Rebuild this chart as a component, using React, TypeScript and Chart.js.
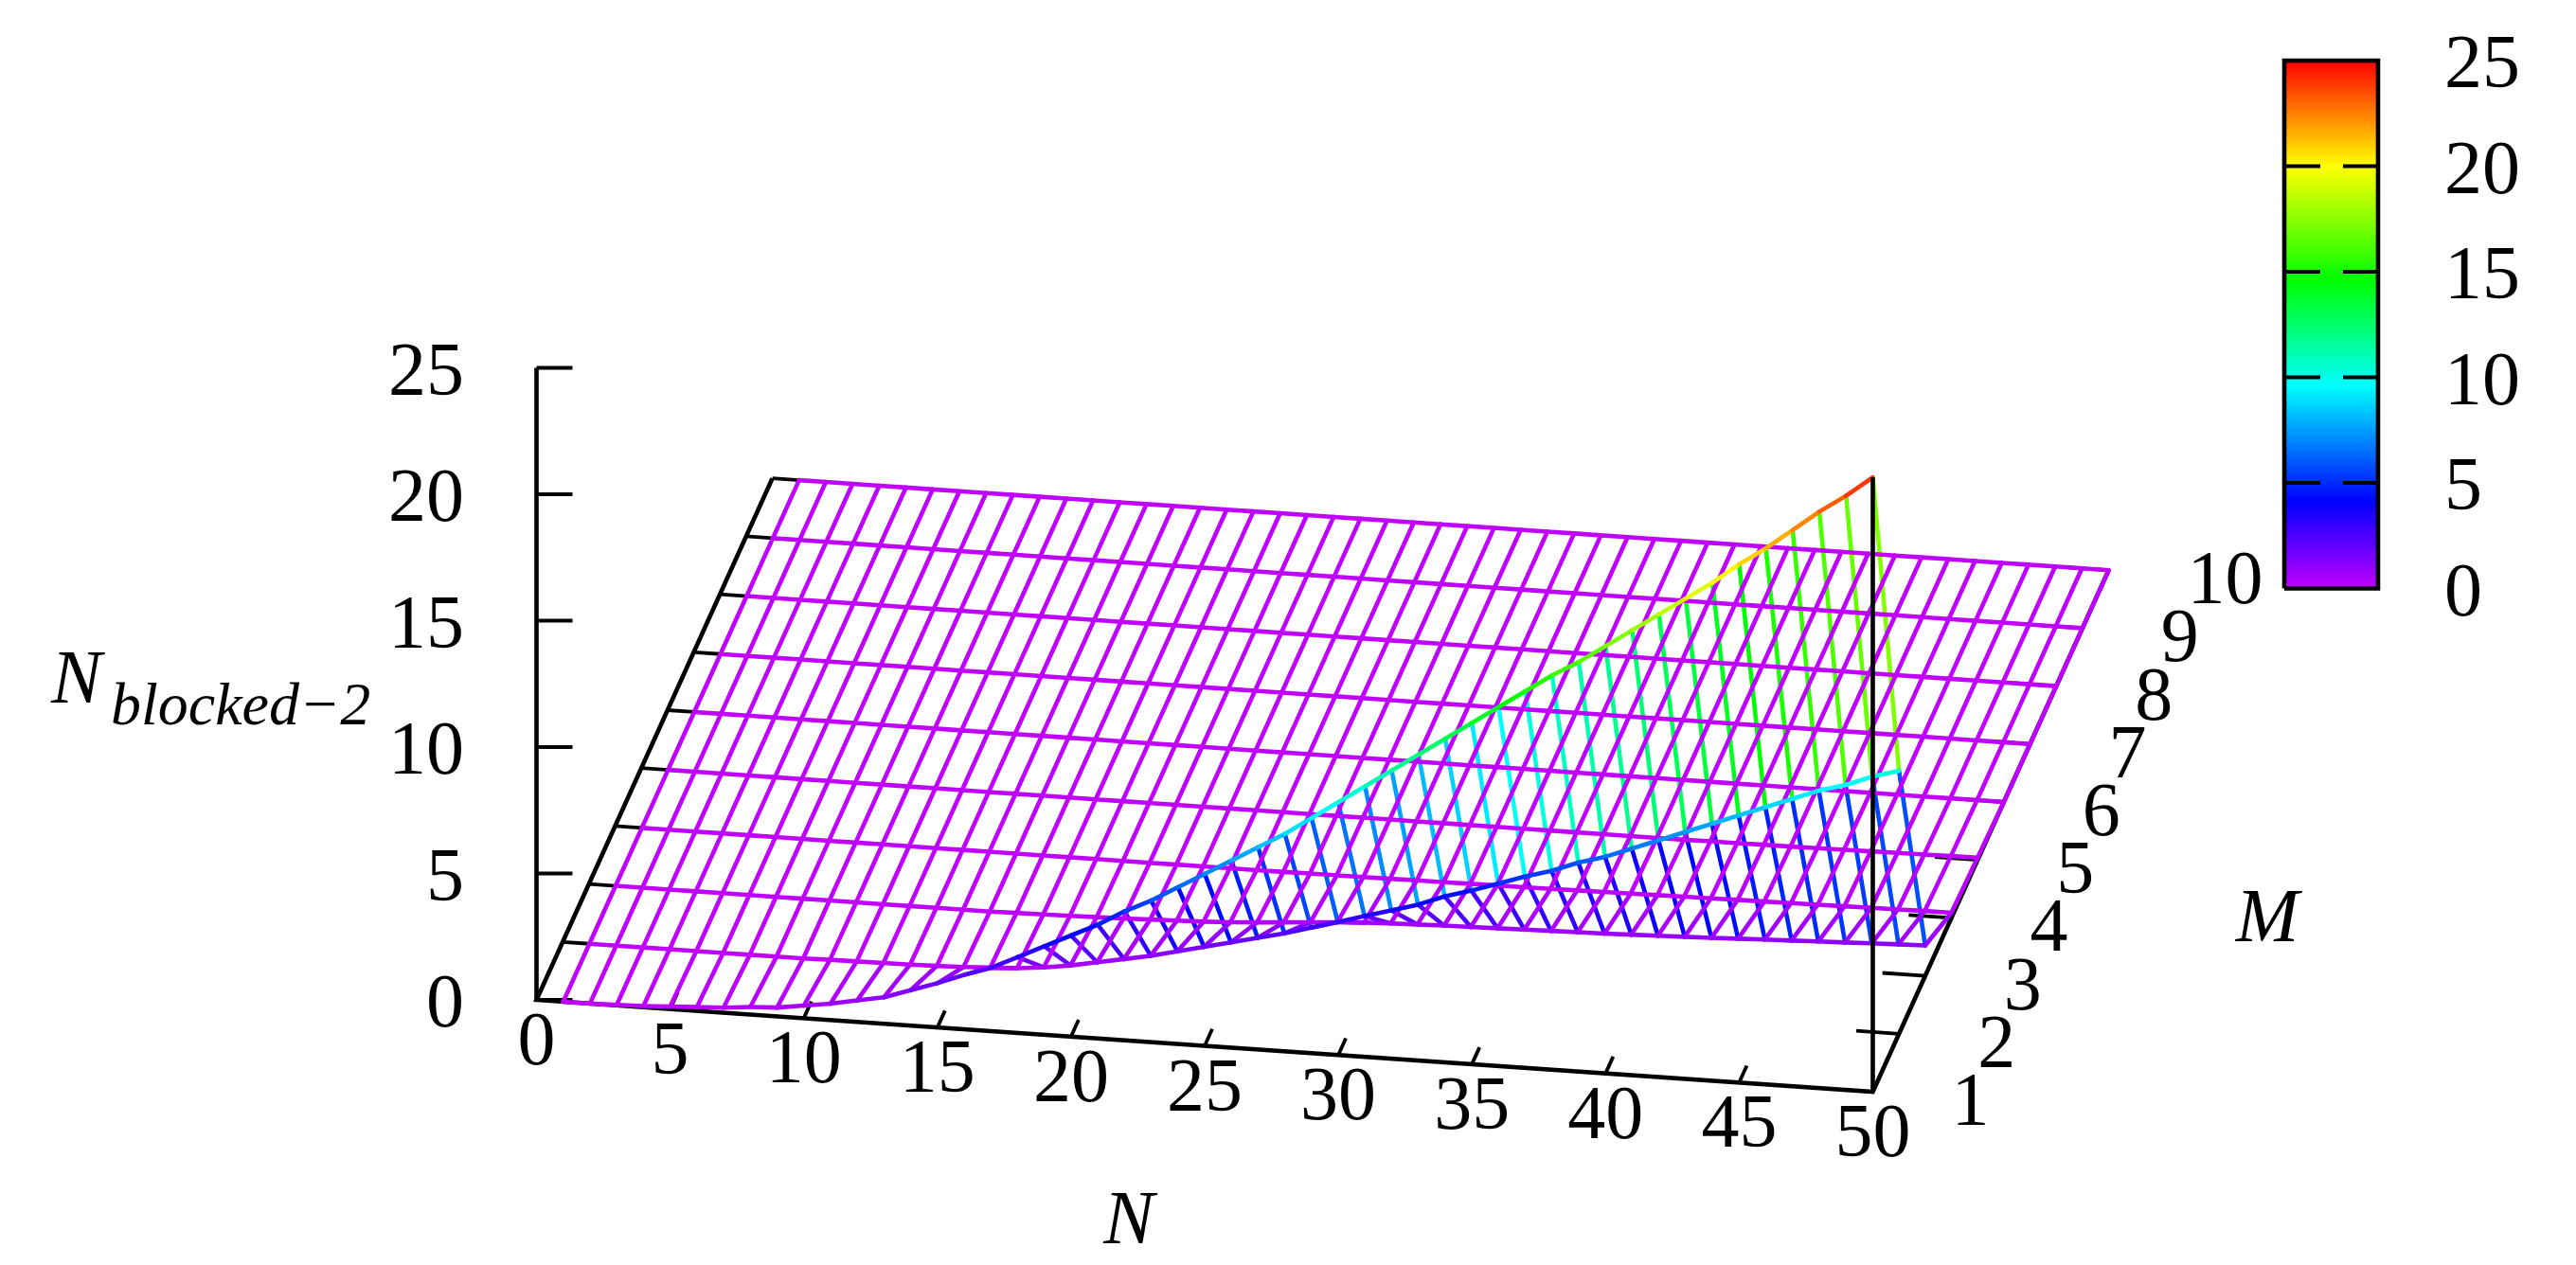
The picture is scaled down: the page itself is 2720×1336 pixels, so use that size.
import React, { useEffect, useRef } from "react";
import { Chart, registerables } from "chart.js";

Chart.register(...registerables);

// ---------- data ----------
const nValues = [1,2,3,4,5,6,7,8,9,10,11,12,13,14,15,16,17,18,19,20,21,22,23,24,25,26,27,28,29,30,31,32,33,34,35,36,37,38,39,40,41,42,43,44,45,46,47,48,49,50];
const mValues = [1,2,3,4,5,6,7,8,9,10];

const rowM1 = [0,0,0.02,0.05,0.1,0.15,0.2,0.3,0.35,0.5,0.65,0.85,1.05,1.4,1.75,2.15,2.5,3,3.5,4,4.5,5.1,5.6,6.2,6.8,7.4,8,8.6,9.3,10,10.7,11.4,12.1,12.8,13.5,14.2,14.9,15.6,16.2,16.9,17.6,18.3,19,19.7,20.5,21.2,22,22.8,23.5,24.3];
const rowM2 = [0,0,0,0,0,0,0,0,0,0.02,0.03,0.04,0.05,0.07,0.1,0.15,0.2,0.3,0.45,0.65,0.85,1.05,1.3,1.55,1.8,2.05,2.3,2.6,2.9,3.2,3.5,3.8,4.2,4.5,4.85,5.2,5.5,5.9,6.2,6.6,7,7.4,7.8,8.2,8.6,9,9.4,9.7,10.1,10.4];
const rowM3 = [0,0,0,0,0,0,0,0,0,0,0,0,0,0,0,0.02,0.03,0.05,0.07,0.09,0.12,0.15,0.18,0.23,0.3,0.37,0.45,0.52,0.58,0.62,0.65,0.68,0.7,0.72,0.74,0.76,0.78,0.8,0.83,0.86,0.89,0.92,0.96,1,1.03,1.07,1.1,1.14,1.17,1.2];
const rowM4 = [0,0,0,0,0,0,0,0,0,0,0,0,0,0,0,0,0,0,0,0,0,0,0,0,0,0.01,0.01,0.02,0.02,0.03,0.03,0.04,0.05,0.05,0.06,0.07,0.08,0.09,0.1,0.11,0.12,0.13,0.14,0.15,0.16,0.17,0.18,0.19,0.2,0.2];
const rowM5 = [0,0,0,0,0,0,0,0,0,0,0,0,0,0,0,0,0,0,0,0,0,0,0,0,0,0,0,0,0,0,0,0,0,0,0,0,0,0,0,0.01,0.01,0.02,0.02,0.03,0.04,0.05,0.06,0.07,0.08,0.09];
const rowFlat = [0,0,0,0,0,0,0,0,0,0,0,0,0,0,0,0,0,0,0,0,0,0,0,0,0,0,0,0,0,0,0,0,0,0,0,0,0,0,0,0,0,0,0,0,0,0,0,0,0,0];
const surfaceRows = [rowM1, rowM2, rowM3, rowM4, rowM5, rowFlat, rowFlat, rowFlat, rowFlat, rowFlat];

const zTicks = [0, 5, 10, 15, 20, 25];
const nTicks = [0, 5, 10, 15, 20, 25, 30, 35, 40, 45, 50];
const mTicks = [1, 2, 3, 4, 5, 6, 7, 8, 9, 10];
const cbTicks = [0, 5, 10, 15, 20, 25];

const paletteStops: [number, number[]][] = [
  [0, [192, 0, 255]],
  [4.1, [0, 0, 255]],
  [9.6, [0, 255, 255]],
  [14.6, [0, 255, 0]],
  [20, [255, 255, 0]],
  [25, [255, 0, 0]],
];

// ---------- view (page pixels) ----------
const W = 2720;
const H = 1336;
const FONT = '"Liberation Serif", "Times New Roman", serif';
const PURPLE_W = 4.6;
const AXIS_W = 4.6;
const TICK_W = 3.8;

function project(n: number, m: number, z: number) {
  return {
    x: 566.5 + n * 28.22 + (m - 1) * 27.67,
    y: 1056 + n * 1.94 + (m - 1) * -61.2 - z * 26.7,
  };
}
const cbY = (z: number) => 621.5 - z * 22.3;
const CB_LEFT = 2412;
const CB_RIGHT = 2511;

function paletteColor(z: number) {
  const v = Math.max(0, Math.min(25, z));
  for (let i = 1; i < paletteStops.length; i++) {
    const [z1, c1] = paletteStops[i];
    if (v <= z1) {
      const [z0, c0] = paletteStops[i - 1];
      const t = (v - z0) / (z1 - z0);
      const c = c0.map((a, k) => Math.round(a + (c1[k] - a) * t));
      return `rgb(${c[0]},${c[1]},${c[2]})`;
    }
  }
  return "rgb(255,0,0)";
}

function surfaceLine(zs: number[], pts: { x: number; y: number }[], order: number) {
  return {
    data: pts,
    showLine: true,
    pointRadius: 0,
    borderWidth: PURPLE_W,
    borderColor: paletteColor(0),
    borderCapStyle: "round" as const,
    tension: 0,
    order,
    segment: {
      borderColor: (c: any) => paletteColor((zs[c.p0DataIndex] + zs[c.p1DataIndex]) / 2),
    },
  };
}

function blackLine(pts: { x: number; y: number }[], width: number, order: number) {
  return {
    data: pts,
    showLine: true,
    pointRadius: 0,
    borderWidth: width,
    borderColor: "#000",
    borderCapStyle: "butt" as const,
    tension: 0,
    order,
  };
}

function buildDatasets() {
  const ds: any[] = [];
  // Surface rows: M = const, front row on top
  surfaceRows.forEach((row, i) => {
    ds.push(surfaceLine(row, nValues.map((n, k) => project(n, mValues[i], row[k])), 2 + (i === 0 ? 0 : 1)));
  });
  // Surface columns: N = const
  nValues.forEach((n, k) => {
    const zs = surfaceRows.map((r) => r[k]);
    ds.push(surfaceLine(zs, mValues.map((m, i) => project(n, m, zs[i])), 4));
  });
  // Base frame (the back edge lies under the M = 10 row)
  const corners = [project(50, 10, 0), project(50, 1, 0), project(0, 1, 0), project(0, 10, 0)];
  ds.push(blackLine(corners, AXIS_W, 6));
  // Vertical axes
  ds.push(blackLine([project(0, 1, 0), project(0, 1, 25)], AXIS_W, 5));
  ds.push(blackLine([project(50, 1, 0), project(50, 1, rowM1[49])], AXIS_W, 0));
  // z ticks
  zTicks.forEach((z) => {
    const p = project(0, 1, z);
    ds.push(blackLine([p, { x: p.x + 38, y: p.y }], TICK_W, 6));
  });
  // N ticks
  nTicks.slice(1, -1).forEach((n) => {
    const p = project(n, 1, 0);
    ds.push(blackLine([p, project(n, 1.29, 0)], TICK_W, 6));
  });
  // M ticks, both sides
  mTicks.slice(1).forEach((m) => {
    ds.push(blackLine([project(0, m, 0), project(1, m, 0)], TICK_W, 6));
    ds.push(blackLine([project(50, m, 0), project(48.4, m, 0)], TICK_W, 6));
  });
  // Colour bar
  const cx = (CB_LEFT + CB_RIGHT) / 2;
  ds.push({
    data: [{ x: cx, y: cbY(0) }, { x: cx, y: cbY(25) }],
    showLine: true,
    pointRadius: 0,
    borderWidth: CB_RIGHT - CB_LEFT,
    borderCapStyle: "butt",
    tension: 0,
    order: 9,
    borderColor: (c: any) => {
      const g = c.chart.ctx.createLinearGradient(0, cbY(0), 0, cbY(25));
      paletteStops.forEach(([z, col]) => g.addColorStop(z / 25, `rgb(${col[0]},${col[1]},${col[2]})`));
      return g;
    },
  });
  ds.push(
    blackLine(
      [
        { x: CB_LEFT, y: cbY(0) },
        { x: CB_RIGHT, y: cbY(0) },
        { x: CB_RIGHT, y: cbY(25) },
        { x: CB_LEFT, y: cbY(25) },
        { x: CB_LEFT, y: cbY(0) },
      ],
      AXIS_W,
      0
    )
  );
  cbTicks.slice(1, -1).forEach((z) => {
    ds.push(blackLine([{ x: CB_LEFT, y: cbY(z) }, { x: CB_LEFT + 38, y: cbY(z) }], TICK_W, 1));
    ds.push(blackLine([{ x: CB_RIGHT, y: cbY(z) }, { x: CB_RIGHT - 37, y: cbY(z) }], TICK_W, 1));
  });
  return ds;
}

const labelsPlugin = {
  id: "labels3d",
  afterDraw(chart: any) {
    const ctx = chart.ctx as CanvasRenderingContext2D;
    const sx = chart.scales.x;
    const sy = chart.scales.y;
    const text = (s: string, x: number, y: number, align: CanvasTextAlign, font: string) => {
      ctx.font = font;
      ctx.textAlign = align;
      ctx.textBaseline = "alphabetic";
      ctx.fillStyle = "#000";
      ctx.fillText(s, sx.getPixelForValue(x), sy.getPixelForValue(y));
    };
    ctx.save();
    const f = `80px ${FONT}`;
    zTicks.forEach((z) => {
      const p = project(0, 1, z);
      text(String(z), 490, p.y + 28, "right", f);
    });
    nTicks.forEach((n) => {
      const p = project(n, 1, 0);
      text(String(n), p.x, p.y + 68, "center", f);
    });
    mTicks.forEach((m) => {
      const p = project(50, m, 0);
      text(String(m), p.x + 83, p.y + 35, "left", f);
    });
    cbTicks.forEach((z) => text(String(z), 2581, cbY(z) + 28, "left", f));
    const fi = `italic 80px ${FONT}`;
    text("N", 1192, 1313, "center", fi);
    text("M", 2394, 994, "center", fi);
    text("N", 54, 742, "left", fi);
    text("blocked\u22122", 117, 765, "left", `italic 64px ${FONT}`);
    ctx.restore();
  },
};

export default function App() {
  const ref = useRef<HTMLCanvasElement | null>(null);
  useEffect(() => {
    document.body.style.margin = "0";
    const chart = new Chart(ref.current as HTMLCanvasElement, {
      type: "scatter",
      data: { datasets: buildDatasets() },
      options: {
        animation: false,
        responsive: false,
        devicePixelRatio: 1,
        layout: { padding: 0 },
        plugins: { legend: { display: false }, tooltip: { enabled: false }, title: { display: false } },
        scales: {
          x: { type: "linear", min: 0, max: W, display: false },
          y: { type: "linear", min: 0, max: H, reverse: true, display: false },
        },
      },
      plugins: [labelsPlugin],
    } as any);
    return () => chart.destroy();
  }, []);
  return <canvas ref={ref} width={W} height={H} style={{ display: "block", width: W, height: H }} />;
}
